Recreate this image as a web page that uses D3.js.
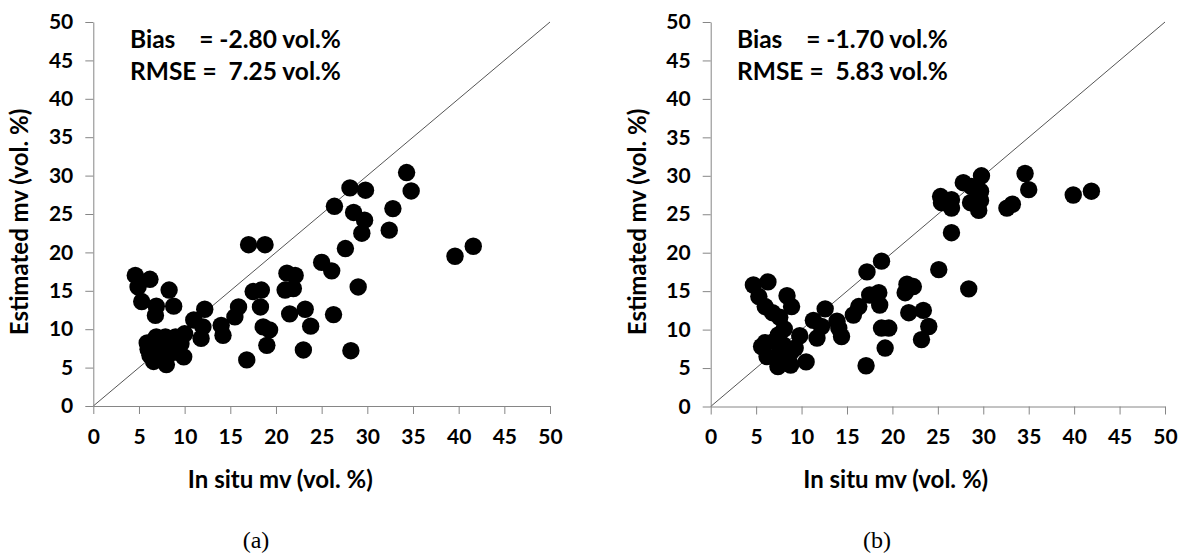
<!DOCTYPE html>
<html><head><meta charset="utf-8">
<script src="https://cdn.jsdelivr.net/npm/d3@7"></script>
<style>
html,body{margin:0;padding:0;background:#fff;}
text{font-family:Lato,"Open Sans",sans-serif;font-weight:bold;fill:#000;}
</style></head>
<body>
<svg id="chart" width="1186" height="556"></svg>
<script>
const tickValues = [0,5,10,15,20,25,30,35,40,45,50];
const xTitle = "In situ mv (vol. %)";
const yTitle = "Estimated mv (vol. %)";
const panelLabels = ["(a)","(b)"];
const statsA = ["Bias    = -2.80 vol.%","RMSE =  7.25 vol.%"];
const statsB = ["Bias    = -1.70 vol.%","RMSE =  5.83 vol.%"];

const pointsA = [[4.6,17.0],[6.2,16.5],[4.9,15.5],[8.3,15.1],[5.3,13.6],[6.9,13.0],[8.8,13.0],[6.8,11.8],[12.2,12.6],[11.0,11.2],[12.0,10.3],[11.8,8.8],[10.0,9.4],[14.0,10.5],[14.2,9.2],[15.9,12.9],[15.5,11.6],[16.8,6.0],[17.5,14.9],[18.4,15.1],[18.3,12.9],[18.6,10.3],[19.3,9.9],[19.0,7.9],[17.0,21.0],[18.8,21.0],[5.9,8.2],[6.9,9.0],[7.9,9.0],[9.0,9.0],[7.1,7.0],[6.6,5.8],[8.0,5.4],[9.9,6.4],[8.8,7.0],[6.0,7.4],[7.9,7.8],[6.2,6.6],[9.6,8.1],[7.0,6.2],[34.3,30.4],[34.8,28.0],[28.1,28.4],[29.8,28.1],[26.4,26.0],[32.8,25.7],[28.5,25.2],[29.7,24.2],[29.4,22.5],[32.4,22.9],[27.6,20.5],[25.0,18.7],[26.1,17.6],[29.0,15.5],[21.2,17.3],[22.1,17.0],[21.0,15.1],[21.9,15.3],[21.5,12.0],[23.2,12.6],[26.3,11.9],[23.8,10.4],[23.0,7.3],[28.2,7.2],[39.6,19.5],[41.6,20.8]];

const pointsB = [[4.7,15.8],[6.3,16.2],[5.3,14.3],[8.4,14.4],[8.9,13.0],[6.0,13.0],[6.8,12.2],[7.6,11.6],[12.6,12.7],[11.3,11.2],[12.2,10.4],[11.7,8.9],[13.9,11.1],[14.4,9.1],[14.1,10.2],[16.3,13.0],[15.7,11.9],[17.1,5.3],[17.2,17.5],[18.8,18.9],[17.5,14.5],[18.5,14.8],[18.6,13.2],[18.8,10.2],[19.6,10.2],[19.2,7.6],[5.6,7.8],[6.2,6.5],[7.4,5.2],[8.8,5.4],[10.5,5.8],[9.8,9.2],[8.1,10.1],[7.0,8.5],[8.8,7.0],[7.4,6.7],[8.0,8.0],[6.0,8.3],[7.45,9.3],[9.3,7.6],[34.6,30.3],[35.0,28.2],[29.8,30.0],[27.8,29.1],[29.7,28.0],[28.7,28.6],[25.3,27.3],[26.5,26.9],[25.4,26.5],[26.5,25.8],[28.6,26.5],[29.5,25.5],[29.7,26.8],[32.6,25.8],[33.2,26.3],[39.9,27.5],[41.9,28.0],[26.5,22.6],[25.1,17.8],[28.4,15.3],[21.6,15.9],[22.3,15.6],[21.4,14.8],[21.8,12.2],[23.4,12.5],[24.0,10.4],[23.2,8.7]];

const svg = d3.select("#chart");
const gray = "#868686";

function panel(cfg){
  const x = d3.scaleLinear().domain([0,50]).range([cfg.x0, cfg.x1]);
  const y = d3.scaleLinear().domain([0,50]).range([cfg.y0, cfg.y1]);
  const g = svg.append("g");
  g.append("line").attr("x1",x(0)).attr("y1",y(0)).attr("x2",x(50)).attr("y2",y(50))
    .attr("stroke","#555").attr("stroke-width",1);
  const xa = g.append("g").attr("transform",`translate(0,${cfg.y0})`)
    .call(d3.axisBottom(x).tickValues(tickValues).tickSize(8).tickPadding(15).tickSizeOuter(0));
  const ya = g.append("g").attr("transform",`translate(${cfg.x0},0)`)
    .call(d3.axisLeft(y).tickValues(tickValues).tickSize(8).tickPadding(12).tickSizeOuter(0));
  [xa,ya].forEach(a=>{
    a.select(".domain").attr("stroke",gray);
    a.selectAll(".tick line").attr("stroke",gray);
    a.selectAll(".tick text").style("font-size","21px").style("font-family","Lato,sans-serif").style("font-weight","bold").attr("fill","#000");
  });
  g.append("g").selectAll("circle").data(cfg.points).join("circle")
    .attr("cx",d=>x(d[0])).attr("cy",d=>y(d[1])).attr("r",8.7).attr("fill","#000");
  g.append("text").attr("x",cfg.x0+cfg.tcx).attr("y",488).attr("text-anchor","middle")
    .style("font-size","24px").text(xTitle);
  g.append("text").attr("transform",`translate(${cfg.x0-65},222) rotate(-90)`)
    .attr("text-anchor","middle").style("font-size","24px").text(yTitle);
  cfg.stats.forEach((s,i)=>{
    g.append("text").attr("x",cfg.tx).attr("y",48+i*32).style("font-size","24.5px")
      .attr("xml:space","preserve").style("white-space","pre").text(s);
  });
  g.append("text").attr("x",cfg.lx).attr("y",548).attr("text-anchor","middle")
    .style("font-family","'Liberation Serif','Times New Roman',serif").style("font-weight","normal")
    .style("font-size","24px").text(cfg.label);
}

panel({x0:93.3,x1:550,y0:406,y1:22,points:pointsA,stats:statsA,tx:130,tcx:187,lx:256,label:panelLabels[0]});
panel({x0:710.7,x1:1165,y0:406.5,y1:22,points:pointsB,stats:statsB,tx:737,tcx:185,lx:877,label:panelLabels[1]});
</script>
</body></html>
